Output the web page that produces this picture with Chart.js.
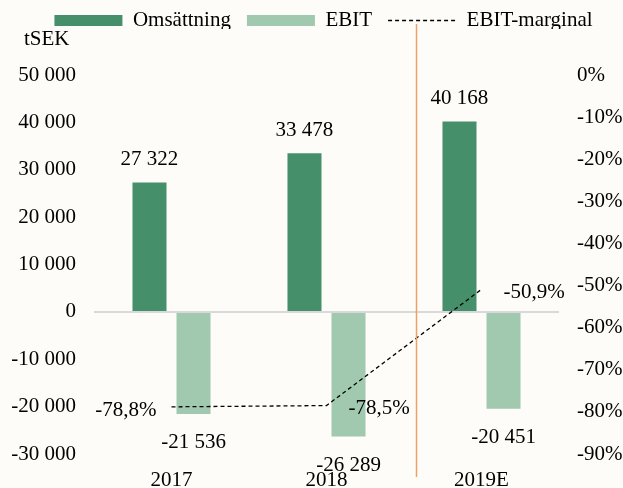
<!DOCTYPE html>
<html>
<head>
<meta charset="utf-8">
<script src="https://cdn.jsdelivr.net/npm/chart.js@4/dist/chart.umd.min.js"></script>
<style>
html,body{margin:0;padding:0;background:#FDFCF8;}
#wrap{width:623px;height:488px;}
</style>
</head>
<body>
<div id="wrap"><canvas id="c" width="623" height="488"></canvas></div>
<script>
// ---- data ----
const categories = ['2017', '2018', '2019E'];
const omsattning = [27322, 33478, 40168];
const ebit = [-21536, -26289, -20451];
const ebitMarginal = [-78.8, -78.5, -50.9];
const leftTickValues = [-30000, -20000, -10000, 0, 10000, 20000, 30000, 40000, 50000];
const rightTickValues = [-90, -80, -70, -60, -50, -40, -30, -20, -10, 0];
const seriesNames = ['Omsättning', 'EBIT', 'EBIT-marginal'];
const unitLabel = 'tSEK';

// ---- helpers ----
const FONT_FAMILY = '"Liberation Serif", "Times New Roman", serif';
const fmtNum = v => (v < 0 ? '-' : '') + String(Math.abs(Math.round(v))).replace(/\B(?=(\d{3})+(?!\d))/g, ' ');
const fmtPct1 = v => v.toFixed(1).replace('.', ',') + '%';
const fmtPct0 = v => (Object.is(v, -0) ? 0 : v) + '%';

const COL_DARK = '#45906A';
const COL_LIGHT = '#A1C9AF';
const COL_DIVIDER = '#F0A066';
const BG = '#FDFCF8';
const dividerAt = 1.575; // between 2018 and 2019E on the category scale

const bgPlugin = {
  id: 'bg',
  beforeDraw(chart) {
    const ctx = chart.ctx;
    ctx.save();
    ctx.fillStyle = BG;
    ctx.fillRect(0, 0, chart.width, chart.height);
    ctx.restore();
  }
};

// let the left tick labels extend past the layout padding without being clipped
const unclipPlugin = {
  id: 'unclipLeft',
  afterLayout(chart) {
    chart.scales.y.left = 0;
  }
};

const labelPlugin = {
  id: 'valueLabels',
  afterDatasetsDraw(chart) {
    const ctx = chart.ctx;
    const area = chart.chartArea;
    ctx.save();
    // divider line
    const xd = Math.round(chart.scales.x.getPixelForValue(dividerAt)) + 0.5;
    ctx.strokeStyle = COL_DIVIDER;
    ctx.lineWidth = 1.5;
    ctx.beginPath();
    ctx.moveTo(xd, 24);
    ctx.lineTo(xd, area.bottom + 23);
    ctx.stroke();

    ctx.font = '21px ' + FONT_FAMILY;
    ctx.fillStyle = '#000';
    ctx.textBaseline = 'middle';
    chart.data.datasets.forEach((ds, di) => {
      const meta = chart.getDatasetMeta(di);
      meta.data.forEach((el, i) => {
        const v = ds.data[i];
        if (ds.type === 'line') {
          const txt = fmtPct1(v);
          if (i === 0) {
            ctx.textAlign = 'right';
            ctx.fillText(txt, el.x - 15, el.y + 4);
          } else {
            ctx.textAlign = 'left';
            ctx.fillText(txt, el.x + 22, el.y + 3);
          }
        } else {
          ctx.textAlign = 'center';
          const y = v >= 0 ? el.y - 23 : el.y + 29;
          ctx.fillText(fmtNum(v), el.x, y);
        }
      });
    });
    ctx.restore();
  }
};

const font21 = { family: FONT_FAMILY, size: 21 };

new Chart(document.getElementById('c'), {
  type: 'bar',
  data: {
    labels: categories,
    datasets: [
      {
        label: seriesNames[0],
        data: omsattning,
        backgroundColor: COL_DARK,
        borderWidth: 0,
        yAxisID: 'y',
        order: 1,
        categoryPercentage: 0.568,
        barPercentage: 0.773
      },
      {
        label: seriesNames[1],
        data: ebit,
        backgroundColor: COL_LIGHT,
        borderWidth: 0,
        yAxisID: 'y',
        order: 1,
        categoryPercentage: 0.568,
        barPercentage: 0.773
      },
      {
        type: 'line',
        label: seriesNames[2],
        data: ebitMarginal,
        borderColor: '#000',
        backgroundColor: 'rgba(0,0,0,0)',
        borderWidth: 1.3,
        borderDash: [4, 3],
        pointRadius: 0,
        fill: false,
        tension: 0,
        yAxisID: 'y1',
        order: 0
      }
    ]
  },
  options: {
    responsive: false,
    animation: false,
    devicePixelRatio: 1,
    layout: { padding: { top: -6, left: 24, right: 0, bottom: 0 } },
    plugins: {
      tooltip: { enabled: false },
      legend: {
        display: true,
        position: 'top',
        align: 'center',
        maxHeight: 35,
        labels: {
          usePointStyle: true,
          pointStyleWidth: 68,
          boxHeight: 11,
          padding: 16,
          color: '#000',
          font: font21,
          generateLabels(chart) {
            return chart.data.datasets.map((ds, i) => {
              const isLine = ds.type === 'line';
              return {
                text: ds.label,
                datasetIndex: i,
                hidden: false,
                fillStyle: isLine ? 'rgba(0,0,0,0)' : ds.backgroundColor,
                strokeStyle: isLine ? '#000' : ds.backgroundColor,
                lineWidth: isLine ? 1.3 : 0,
                lineDash: isLine ? [4, 3] : [],
                pointStyle: isLine ? 'line' : 'rect',
                fontColor: '#000'
              };
            });
          }
        }
      },
      title: {
        display: true,
        text: unitLabel,
        align: 'start',
        position: 'top',
        weight: 500,
        color: '#000',
        font: { family: FONT_FAMILY, size: 21, weight: 'normal', lineHeight: 1 },
        padding: { top: 0, bottom: 25 }
      }
    },
    scales: {
      x: {
        type: 'category',
        offset: true,
        grid: { display: false, drawTicks: false },
        border: { display: false },
        ticks: { padding: 14, color: '#000', font: font21, maxRotation: 0 },
        afterFit(s) { s.height = 34; }
      },
      y: {
        position: 'left',
        min: leftTickValues[0],
        max: leftTickValues[leftTickValues.length - 1],
        ticks: {
          stepSize: leftTickValues[1] - leftTickValues[0],
          padding: 18,
          color: '#000',
          font: font21,
          callback: v => fmtNum(v)
        },
        grid: {
          drawTicks: false,
          lineWidth: 2,
          color: c => (c.tick && c.tick.value === 0) ? '#D9D9D9' : 'rgba(0,0,0,0)'
        },
        border: { display: false },
        afterFit(s) { s.width = 70; }
      },
      y1: {
        position: 'right',
        min: rightTickValues[0],
        max: rightTickValues[rightTickValues.length - 1],
        ticks: {
          stepSize: rightTickValues[1] - rightTickValues[0],
          padding: 18,
          color: '#000',
          font: font21,
          callback: v => fmtPct0(v)
        },
        grid: { display: false, drawTicks: false },
        border: { display: false },
        afterFit(s) { s.width = 64; }
      }
    }
  },
  plugins: [bgPlugin, unclipPlugin, labelPlugin]
});
</script>
</body>
</html>
